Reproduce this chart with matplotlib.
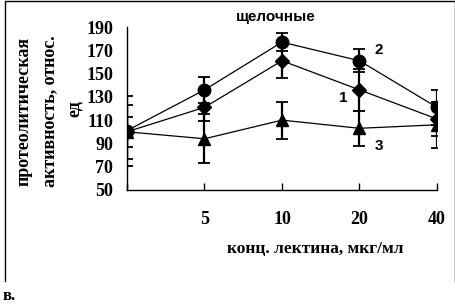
import matplotlib
matplotlib.use("Agg")
from matplotlib import pyplot as plt
from matplotlib.lines import Line2D

# концентрация лектина (категории на оси x)
conc = ["", "5", "10", "20", "40"]
pos = [0, 1, 2, 3, 4]

# кривая 1 (ромбы)
s1 = [100, 121, 161, 136, 111]
e1 = [23, 12, 15, 18, 15]
# кривая 2 (круги)
s2 = [101, 136, 177, 161, 121]
e2 = [30, 11, 8, 10, 15]
# кривая 3 (треугольники)
s3 = [100, 94, 110, 103, 106]
e3 = [13, 21, 16, 15, 20]

yticks = [50, 70, 90, 110, 130, 150, 170, 190]

W, H = 456, 306
fig = plt.figure(figsize=(W / 100, H / 100), dpi=100)
ax = fig.add_axes([127 / W, 1 - 190 / H, 310 / W, 163 / H])

serif = {"family": "Liberation Serif", "weight": "bold"}
sans = {"family": "Liberation Sans", "weight": "bold"}

for y, e, m, ms in [(s3, e3, "^", 9), (s1, e1, "D", 7), (s2, e2, "o", 9)]:
    ax.errorbar(pos, y, yerr=e, fmt="none", ecolor="black", elinewidth=1.6,
                capsize=4.5, capthick=1.3, zorder=2)
    ax.plot(pos, y, color="black", lw=0.9, marker=m, ms=ms,
            markerfacecolor="black", markeredgecolor="black", zorder=3)

ax.set_xlim(0, 4)
ax.set_ylim(50, 190)
ax.set_xticks(pos)
ax.set_xticklabels(conc, fontdict=serif, fontsize=13)
ax.set_yticks(yticks)
ax.set_yticklabels([str(v) for v in yticks], fontdict=serif, fontsize=13)
ax.tick_params(axis="x", direction="in", length=5, width=1, pad=15)
ax.tick_params(axis="y", which="major", length=0, pad=10)
ax.set_yticks([190], minor=True)
ax.tick_params(axis="y", which="minor", direction="in", length=6, width=1)
for s in ["top", "right"]:
    ax.spines[s].set_visible(False)
for s in ["left", "bottom"]:
    ax.spines[s].set_linewidth(1)

ax.text(3.25, 170, "2", fontdict=sans, fontsize=11, ha="center", va="center")
ax.text(2.79, 129, "1", fontdict=sans, fontsize=11, ha="center", va="center")
ax.text(3.25, 88, "3", fontdict=sans, fontsize=11, ha="center", va="center")

def px(x, y):
    return x / W, 1 - y / H

fig.text(*px(276, 17), "щелочные", fontdict=sans, fontsize=11, ha="center", va="center")
fig.text(*px(315, 249), "конц. лектина, мкг/мл", fontdict=serif, fontsize=12.5,
         ha="center", va="center")
fig.text(*px(24, 111), "протеолитическая", fontdict=serif, fontsize=13,
         rotation=90, ha="center", va="center")
fig.text(*px(50, 111), "активность, относ.", fontdict=serif, fontsize=13,
         rotation=90, ha="center", va="center")
fig.text(*px(74, 109), "ед", fontdict=serif, fontsize=13,
         rotation=90, ha="center", va="center")
fig.text(*px(3, 296), "в.", fontdict=serif, fontsize=12,
         ha="left", va="center")

# рамка рисунка
fig.add_artist(Line2D([5 / W, 5 / W, 455 / W, 455 / W],
                      [1 - 281 / H, 1 - 0.5 / H, 1 - 0.5 / H, 1 - 282 / H],
                      color="black", lw=1))

fig.savefig("out.png", dpi=100)
